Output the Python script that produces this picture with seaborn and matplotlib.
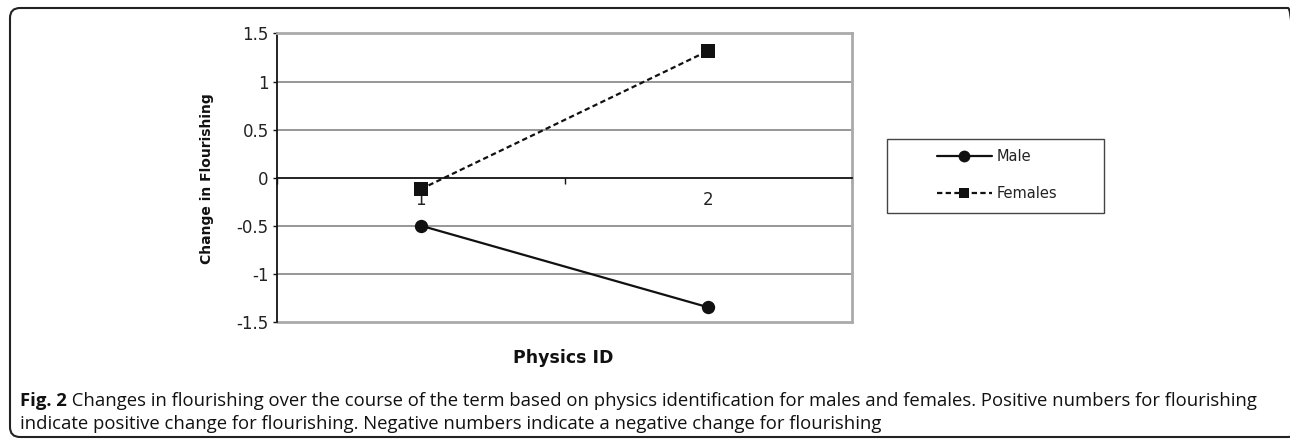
import matplotlib
matplotlib.use("Agg")
import matplotlib.pyplot as plt
import matplotlib.patches as mpatches
import matplotlib.transforms as mtrans
import seaborn as sns
import pandas as pd
import numpy as np

# ---- data ----
physics_id = [1, 2]
male = [-0.50, -1.35]
females = [-0.12, 1.32]
series_names = ["Male", "Females"]
y_ticks = [-1.5, -1, -0.5, 0, 0.5, 1, 1.5]
y_tick_labels = ["-1.5", "-1", "-0.5", "0", "0.5", "1", "1.5"]
x_label = "Physics ID"
y_label = "Change in Flourishing"
caption_bold = "Fig. 2"
caption_lines = [
    " Changes in flourishing over the course of the term based on physics identification for males and females. Positive numbers for flourishing",
    "indicate positive change for flourishing. Negative numbers indicate a negative change for flourishing",
]

df = pd.DataFrame({
    "Physics ID": physics_id * 2,
    "value": male + females,
    "series": [series_names[0]] * len(male) + [series_names[1]] * len(females),
})

sns.set_theme(style="white")
plt.rcParams["font.family"] = ["DejaVu Sans"]

W, H = 1290, 440
fig = plt.figure(figsize=(W / 100, H / 100), dpi=100)

# axes placement (pixels)
L, R, T, B = 277, 852, 33.5, 321.7
ax = fig.add_axes([L / W, (H - B) / H, (R - L) / W, (B - T) / H])

DASH = (2.4, 1.5)
sns.lineplot(
    data=df, x="Physics ID", y="value", style="series", hue="series",
    palette={series_names[0]: "#111111", series_names[1]: "#111111"},
    markers={series_names[0]: "o", series_names[1]: "s"},
    dashes={series_names[0]: "", series_names[1]: DASH},
    markersize=9.6, linewidth=1.6, markeredgewidth=0,
    legend=False, ax=ax,
)
for ln in ax.lines:
    ln.set_zorder(5)
    ln.set_clip_on(False)
ax.lines[1].set_markersize(9.4)

ax.set_xlim(0.5, 2.5)
ax.set_ylim(-1.5, 1.5)

# grid lines
for v in y_ticks[1:-1]:
    if v != 0:
        ax.axhline(v, color="#7a7a7a", lw=1.1, zorder=1)
ax.axhline(-1.5, color="#aaaaaa", lw=2.0, zorder=1, clip_on=False)

for s in ["top", "right"]:
    ax.spines[s].set_color("#aaaaaa")
    ax.spines[s].set_linewidth(2.0)
ax.spines["left"].set_color("#111111")
ax.spines["left"].set_linewidth(1.3)
ax.spines["bottom"].set_position(("data", 0))
ax.spines["bottom"].set_color("#111111")
ax.spines["bottom"].set_linewidth(1.3)

ax.set_yticks(y_ticks)
ax.set_yticklabels(y_tick_labels)
ax.tick_params(axis="y", which="major", left=True, length=2.9, width=1.0,
               color="#111111", pad=3, labelsize=12, labelcolor="#222222")

ax.set_xticks([0.5, 1.5, 2.5])
ax.set_xticklabels(["", "", ""])
ax.set_xticks(physics_id, minor=True)
ax.set_xticklabels([str(p) for p in physics_id], minor=True)
ax.tick_params(axis="x", which="major", bottom=True, direction="out",
               length=4, width=1.0, color="#111111")
ax.tick_params(axis="x", which="minor", bottom=True, length=0, pad=10,
               labelsize=12, labelcolor="#222222")
ax.xaxis.set_zorder(1.5)

ax.set_xlabel("")
ax.set_ylabel("")
fig.text(207 / W, 1 - 179 / H, y_label, rotation=90, ha="center", va="center",
         fontsize=10, fontweight="bold", color="#111111")
fig.text(563 / W, 1 - 358 / H, x_label, ha="center", va="center",
         fontsize=12.5, fontweight="bold", color="#111111")

# legend (entries) + separate frame to mimic asymmetric padding
handles = [
    plt.Line2D([], [], color="#111111", lw=1.6, marker="o", markersize=8.5, markeredgewidth=0),
    plt.Line2D([], [], color="#111111", lw=1.6, ls=(0, DASH), marker="s", markersize=7.5, markeredgewidth=0),
]
leg = fig.legend(handles, series_names, loc="center left", bbox_to_anchor=(937 / W, 1 - 175 / H),
                 frameon=False, fontsize=10.5, handlelength=3.77,
                 handletextpad=0.34, borderpad=0, labelspacing=1.5, borderaxespad=0,
                 numpoints=1)
for t in leg.get_texts():
    t.set_color("#222222")
leg_frame = mpatches.Rectangle((887, H - 213), 1104 - 887, 213 - 139,
                               transform=mtrans.IdentityTransform(),
                               facecolor="none", edgecolor="#444444", lw=1.0)
fig.patches.append(leg_frame)

# outer rounded frame
frame = mpatches.FancyBboxPatch((10, 3), 1288, 429,
                                boxstyle="round,pad=0,rounding_size=10",
                                transform=mtrans.IdentityTransform(),
                                facecolor="none", edgecolor="#222222", lw=1.5)
fig.patches.append(frame)

# caption
renderer = fig.canvas.get_renderer()
cap_font = ["Open Sans", "DejaVu Sans"]
CAP = 13.3
t_bold = fig.text(20 / W, 1 - 401 / H, caption_bold, ha="left", va="center",
                  fontsize=CAP, fontweight="bold", family=cap_font, color="#111111")
bb = t_bold.get_window_extent(renderer)
fig.text(bb.x1 / W, 1 - 401 / H, caption_lines[0], ha="left", va="center",
         fontsize=CAP, family=cap_font, color="#111111")
fig.text(20 / W, 1 - 424 / H, caption_lines[1], ha="left", va="center",
         fontsize=CAP, family=cap_font, color="#111111")

fig.savefig("out.png", dpi=100)
